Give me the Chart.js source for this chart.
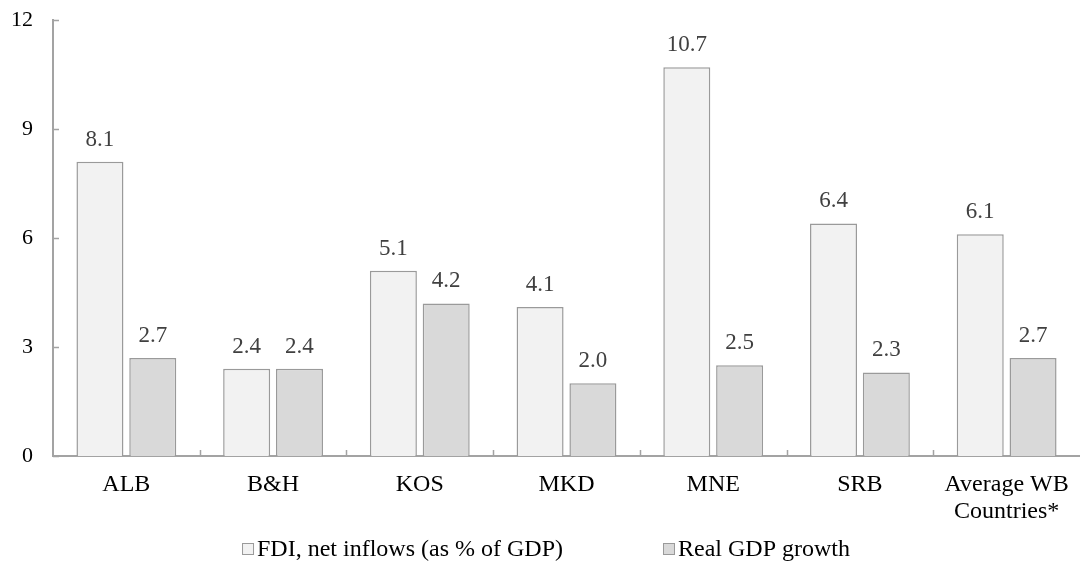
<!DOCTYPE html>
<html>
<head>
<meta charset="utf-8">
<script src="https://cdn.jsdelivr.net/npm/chart.js@4/dist/chart.umd.min.js"></script>
<style>
  html, body { margin: 0; padding: 0; background: #fff; }
  #wrap { width: 1080px; height: 567px; position: relative; }
</style>
</head>
<body>
<div id="wrap"><canvas id="fdi-chart"></canvas></div>
<script>
const countries = ["ALB", "B&H", "KOS", "MKD", "MNE", "SRB", ["Average WB", "Countries*"]];
const fdiInflows = [8.1, 2.4, 5.1, 4.1, 10.7, 6.4, 6.1];
const gdpGrowth = [2.7, 2.4, 4.2, 2.0, 2.5, 2.3, 2.7];
const yTicks = [0, 3, 6, 9, 12];

const FONT = "'Liberation Serif', 'Times New Roman', serif";
const AXIS_COLOR = "#a3a3a3";
const EDGE_COLOR = "#9a9a9a";

// short tick marks pointing into the plot, like the spreadsheet original
const innerTicks = {
  id: "innerTicks",
  afterDatasetsDraw(chart) {
    const { ctx, chartArea, scales } = chart;
    const len = 6;
    ctx.save();
    ctx.strokeStyle = AXIS_COLOR;
    ctx.lineWidth = 1.5;
    ctx.beginPath();
    scales.y.ticks.forEach((t) => {
      const y = Math.round(scales.y.getPixelForValue(t.value)) + 0.5;
      ctx.moveTo(chartArea.left, y);
      ctx.lineTo(chartArea.left + len, y);
    });
    const n = scales.x.ticks.length;
    const step = (chartArea.right - chartArea.left) / n;
    for (let i = 1; i < n; i++) {
      const x = Math.round(chartArea.left + i * step) + 0.5;
      ctx.moveTo(x, chartArea.bottom);
      ctx.lineTo(x, chartArea.bottom - len);
    }
    ctx.stroke();
    ctx.restore();
  },
};

// value printed above every bar
const barValues = {
  id: "barValues",
  afterDatasetsDraw(chart) {
    const { ctx } = chart;
    ctx.save();
    ctx.font = "23px " + FONT;
    ctx.fillStyle = "#404040";
    ctx.textAlign = "center";
    ctx.textBaseline = "alphabetic";
    chart.data.datasets.forEach((ds, di) => {
      chart.getDatasetMeta(di).data.forEach((bar, i) => {
        ctx.fillText(ds.data[i].toFixed(1), bar.x, bar.y - 16);
      });
    });
    ctx.restore();
  },
};

// legend row under the axis: small square swatch tight against the text
const swatchLegend = {
  id: "swatchLegend",
  afterDraw(chart) {
    const { ctx } = chart;
    const box = 12, textGap = 3, itemGap = 100;
    ctx.save();
    ctx.font = "24px " + FONT;
    const items = chart.data.datasets.map((ds) => ({
      ds,
      w: box + textGap + ctx.measureText(ds.label).width,
    }));
    const total = items.reduce((s, it) => s + it.w, 0) + itemGap * (items.length - 1);
    let x = chart.width / 2 + 6 - total / 2;
    const cy = 549;
    items.forEach((it) => {
      ctx.fillStyle = it.ds.backgroundColor;
      ctx.strokeStyle = EDGE_COLOR;
      ctx.lineWidth = 1;
      ctx.fillRect(x, cy - box / 2, box, box);
      ctx.strokeRect(x + 0.5, cy - box / 2 + 0.5, box - 1, box - 1);
      ctx.fillStyle = "#000";
      ctx.textBaseline = "middle";
      ctx.textAlign = "left";
      ctx.fillText(it.ds.label, x + box + textGap, cy + 1);
      x += it.w + itemGap;
    });
    ctx.restore();
  },
};

new Chart(document.getElementById("fdi-chart"), {
  type: "bar",
  data: {
    labels: countries,
    datasets: [
      {
        label: "FDI, net inflows (as % of GDP)",
        data: fdiInflows,
        backgroundColor: "#f2f2f2",
        borderColor: EDGE_COLOR,
        borderWidth: 1.5,
        categoryPercentage: 0.72,
        barPercentage: 0.89,
      },
      {
        label: "Real GDP growth",
        data: gdpGrowth,
        backgroundColor: "#d9d9d9",
        borderColor: EDGE_COLOR,
        borderWidth: 1.5,
        categoryPercentage: 0.72,
        barPercentage: 0.89,
      },
    ],
  },
  options: {
    responsive: true,
    maintainAspectRatio: false,
    animation: false,
    layout: { padding: { top: 20, right: 0, bottom: 33, left: 0 } },
    plugins: {
      legend: { display: false },
      tooltip: { enabled: false },
    },
    scales: {
      x: {
        grid: { display: false, drawTicks: false },
        border: { color: AXIS_COLOR, width: 2 },
        ticks: {
          color: "#000",
          font: { family: FONT, size: 24, lineHeight: 1.1 },
          padding: 16,
          maxRotation: 0,
          autoSkip: false,
        },
        afterFit(scale) {
          scale.height = 78;
          scale.paddingLeft = 0;
          scale.paddingRight = 0;
        },
      },
      y: {
        min: 0,
        max: 12,
        afterBuildTicks(scale) {
          scale.ticks = yTicks.map((v) => ({ value: v }));
        },
        grid: { display: false, drawTicks: false },
        border: { color: AXIS_COLOR, width: 2 },
        ticks: {
          color: "#000",
          font: { family: FONT, size: 22 },
          padding: 20,
        },
        afterFit(scale) {
          scale.width = 53;
          scale.paddingTop = 0;
          scale.paddingBottom = 0;
        },
      },
    },
  },
  plugins: [innerTicks, barValues, swatchLegend],
});
</script>
</body>
</html>
